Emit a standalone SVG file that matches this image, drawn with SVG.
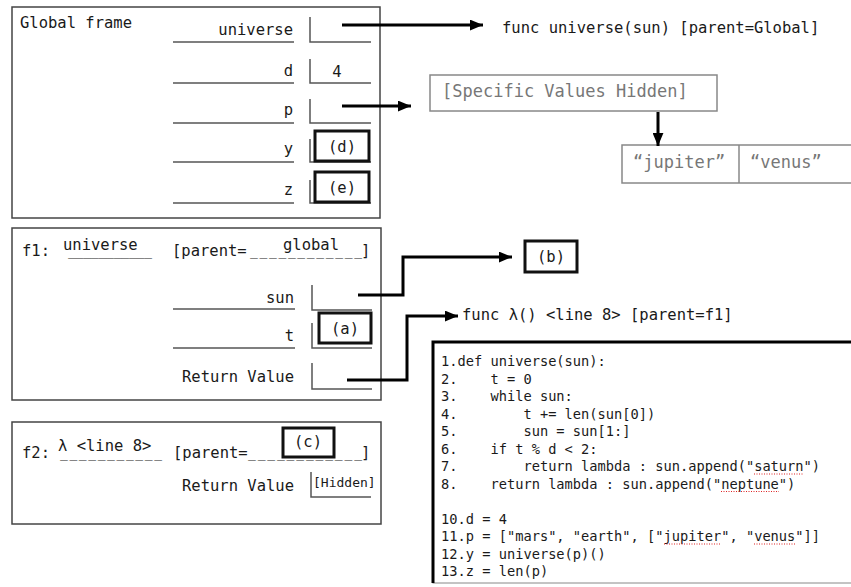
<svg xmlns="http://www.w3.org/2000/svg" width="851" height="587" viewBox="0 0 851 587">
<style>
text{font-family:"DejaVu Sans Mono","Liberation Mono",monospace;fill:#1a1a1a}
.t{font-size:15.5px}
.us{font-size:13px}
.e{text-anchor:end}
.m{text-anchor:middle}
.frame{fill:#fff;stroke:#444;stroke-width:1.5}
.ul{stroke:#555;stroke-width:1.5;fill:none}
.slot{stroke:#555;stroke-width:1.5;fill:none}
.hi{fill:#fff;stroke:#111;stroke-width:3}
.gray{fill:#777}
.gbox{fill:#fff;stroke:#888;stroke-width:1.5}
.conn{stroke:#000;stroke-width:3;fill:none}
.code{font-size:13.7px}
.spell{stroke:#d22;stroke-width:1.2;stroke-dasharray:1 1.5}
</style>
<defs>
<marker id="ah" viewBox="0 0 12 10" refX="12" refY="5" markerWidth="13" markerHeight="11" markerUnits="userSpaceOnUse" orient="auto">
<path d="M0,0 L12,5 L0,10 z" fill="#000"/>
</marker>
</defs>
<rect width="851" height="587" fill="#fff"/>

<g id="global-frame">
<rect class="frame" x="12" y="7" width="368" height="211"/>
<text class="t" x="20" y="28">Global frame</text>
<text class="t e" x="293" y="35">universe</text>
<line class="ul" x1="173" y1="42" x2="294" y2="42"/>
<path class="slot" d="M310,17 V42 H371"/>
<text class="t e" x="293" y="76">d</text>
<line class="ul" x1="173" y1="83" x2="294" y2="83"/>
<path class="slot" d="M310,59 V83 H371"/>
<text class="t m" x="337" y="77">4</text>
<text class="t e" x="293" y="115">p</text>
<line class="ul" x1="173" y1="123" x2="294" y2="123"/>
<path class="slot" d="M310,99 V123 H371"/>
<text class="t e" x="293" y="154">y</text>
<line class="ul" x1="173" y1="162" x2="294" y2="162"/>
<path class="slot" d="M310,139 V162 H371"/>
<rect class="hi" x="315" y="131" width="54" height="30"/>
<text class="t m" x="342" y="152">(d)</text>
<text class="t e" x="293" y="195">z</text>
<line class="ul" x1="173" y1="203" x2="294" y2="203"/>
<path class="slot" d="M310,180 V203 H371"/>
<rect class="hi" x="315" y="172" width="54" height="30"/>
<text class="t m" x="342" y="193">(e)</text>
</g>

<g id="func-universe">
<text class="t" x="502" y="33">func universe(sun) [parent=Global]</text>
</g>

<g id="specific-values">
<rect class="gbox" x="430" y="75" width="287" height="36"/>
<text class="gray" x="442" y="97" style="font-size:17px">[Specific Values Hidden]</text>
</g>

<g id="inner-list">
<rect class="gbox" x="622" y="145" width="250" height="38"/>
<line x1="739" y1="145" x2="739" y2="183" stroke="#888" stroke-width="1.5"/>
<text class="gray" x="633" y="168" style="font-size:17px">“jupiter”</text>
<text class="gray" x="750" y="168" style="font-size:17px">“venus”</text>
</g>

<g id="f1-frame">
<rect class="frame" x="12" y="228" width="369" height="172"/>
<text class="t" x="22" y="256">f1:</text>
<text class="t" x="63" y="250">universe</text>
<text class="us" x="68" y="256" textLength="84" lengthAdjust="spacing">___________</text>
<text class="t" x="172" y="256">[parent=</text>
<text class="t" x="283" y="250">global</text>
<text class="us" x="250" y="256" textLength="112" lengthAdjust="spacing">____________</text>
<text class="t" x="361" y="256">]</text>
<text class="t e" x="294" y="303">sun</text>
<line class="ul" x1="173" y1="309" x2="295" y2="309"/>
<path class="slot" d="M312,285 V310 H372"/>
<text class="t e" x="294" y="341">t</text>
<line class="ul" x1="173" y1="348" x2="295" y2="348"/>
<path class="slot" d="M312,323 V348 H372"/>
<rect class="hi" x="319" y="313" width="52" height="30"/>
<text class="t m" x="345" y="334">(a)</text>
<text class="t e" x="294" y="382">Return Value</text>
<path class="slot" d="M312,363 V389 H372"/>
</g>

<g id="b-box">
<rect class="hi" x="525" y="241" width="52" height="31"/>
<text class="t m" x="551" y="262">(b)</text>
</g>

<g id="func-lambda">
<text class="t" x="462" y="320">func λ() &lt;line 8&gt; [parent=f1]</text>
</g>

<g id="f2-frame">
<rect class="frame" x="12" y="422" width="369" height="102"/>
<text class="t" x="22" y="458">f2:</text>
<text class="t" x="58" y="451">λ &lt;line 8&gt;</text>
<text class="us" x="60" y="458" textLength="102" lengthAdjust="spacing">___________</text>
<text class="t" x="173" y="458">[parent=</text>
<text class="us" x="248" y="458" textLength="114" lengthAdjust="spacing">____________</text>
<text class="t" x="361" y="458">]</text>
<rect class="hi" x="283" y="428" width="51" height="29"/>
<text class="t m" x="308" y="447">(c)</text>
<text class="t e" x="294" y="491">Return Value</text>
<path class="slot" d="M311,472 V497 H371"/>
<text x="313" y="487" style="font-size:13px">[Hidden]</text>
</g>

<g id="code">
<rect x="433" y="342" width="430" height="241" fill="#fff" stroke="#888" stroke-width="1"/>
<path d="M433,583 V342 H851" fill="none" stroke="#000" stroke-width="3"/>
<text class="code" x="441" y="366" xml:space="preserve">1.def universe(sun):</text>
<text class="code" x="441" y="383.5" xml:space="preserve">2.    t = 0</text>
<text class="code" x="441" y="401" xml:space="preserve">3.    while sun:</text>
<text class="code" x="441" y="418.5" xml:space="preserve">4.        t += len(sun[0])</text>
<text class="code" x="441" y="436" xml:space="preserve">5.        sun = sun[1:]</text>
<text class="code" x="441" y="453.5" xml:space="preserve">6.    if t % d &lt; 2:</text>
<text class="code" x="441" y="471" xml:space="preserve">7.        return lambda : sun.append("saturn")</text>
<text class="code" x="441" y="488.5" xml:space="preserve">8.    return lambda : sun.append("neptune")</text>
<text class="code" x="441" y="523.5" xml:space="preserve">10.d = 4</text>
<text class="code" x="441" y="541" xml:space="preserve">11.p = ["mars", "earth", ["jupiter", "venus"]]</text>
<text class="code" x="441" y="558.5" xml:space="preserve">12.y = universe(p)()</text>
<text class="code" x="441" y="576" xml:space="preserve">13.z = len(p)</text>
<line class="spell" x1="754" y1="474" x2="803" y2="474"/>
<line class="spell" x1="721" y1="491.5" x2="779" y2="491.5"/>
<line class="spell" x1="664" y1="544" x2="721" y2="544"/>
<line class="spell" x1="754" y1="544" x2="795" y2="544"/>
</g>

<g id="connectors">
<path class="conn" d="M342,25 H483" marker-end="url(#ah)"/>
<path class="conn" d="M342,106 H411" marker-end="url(#ah)"/>
<path class="conn" d="M658,112 V146" marker-end="url(#ah)"/>
<path class="conn" d="M358,295 H403 V257 H512" marker-end="url(#ah)"/>
<path class="conn" d="M347,380 H407 V316 H458" marker-end="url(#ah)"/>
</g>
</svg>
